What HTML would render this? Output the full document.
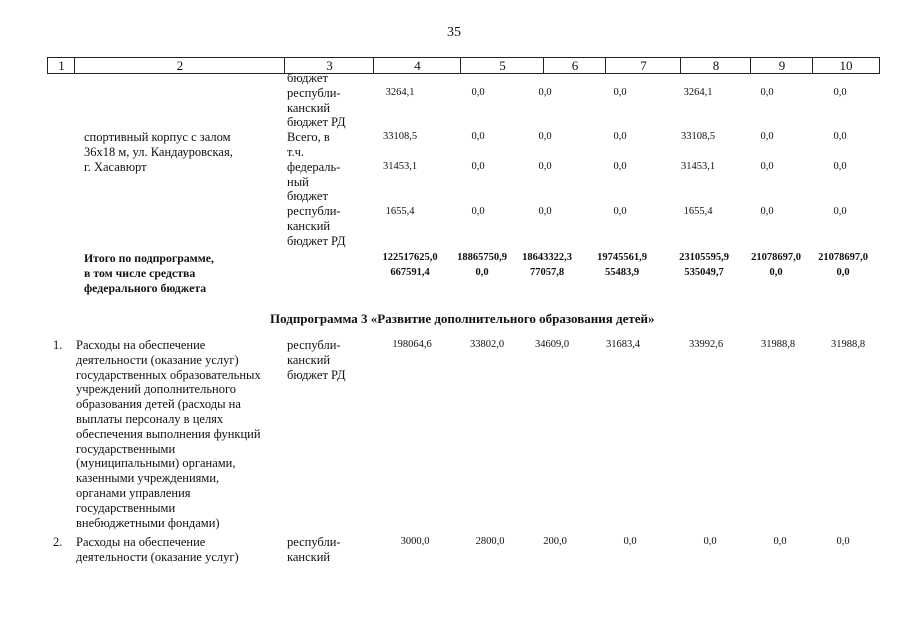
<!DOCTYPE html>
<html><head><meta charset="utf-8"><style>
html,body{margin:0;padding:0;background:#fff}
body{width:905px;height:640px;position:relative;overflow:hidden;font-family:"Liberation Serif",serif;color:#111}
.t{position:absolute;font-size:12.5px;line-height:14.8px;white-space:nowrap}
.n{position:absolute;font-size:10.5px;line-height:14.8px;white-space:nowrap;text-align:center;width:80px}
.b{font-weight:bold}
.hdr{position:absolute;top:57px;height:15px;border:1px solid #222;border-right:none;font-size:13px;line-height:15px;text-align:center}
</style></head><body>
<div class="t" style="left:447px;top:26px;font-size:14px">35</div>

<div class="hdr" style="left:47px;width:27px">1</div>
<div class="hdr" style="left:74px;width:210px">2</div>
<div class="hdr" style="left:284px;width:89px">3</div>
<div class="hdr" style="left:373px;width:87px">4</div>
<div class="hdr" style="left:460px;width:83px">5</div>
<div class="hdr" style="left:543px;width:62px">6</div>
<div class="hdr" style="left:605px;width:75px">7</div>
<div class="hdr" style="left:680px;width:70px">8</div>
<div class="hdr" style="left:750px;width:62px">9</div>
<div class="hdr" style="left:812px;width:66px;border-right:1px solid #222">10</div>

<div class="t" style="left:287px;top:71px">бюджет<br>республи-<br>канский<br>бюджет РД<br>Всего, в<br>т.ч.<br>федераль-<br>ный<br>бюджет<br>республи-<br>канский<br>бюджет РД</div>
<div class="t" style="left:84px;top:130px">спортивный корпус с залом<br>36х18 м, ул. Кандауровская,<br>г. Хасавюрт</div>

<div class="n" style="left:360px;top:86px">3264,1</div>
<div class="n" style="left:438px;top:86px">0,0</div>
<div class="n" style="left:505px;top:86px">0,0</div>
<div class="n" style="left:580px;top:86px">0,0</div>
<div class="n" style="left:658px;top:86px">3264,1</div>
<div class="n" style="left:727px;top:86px">0,0</div>
<div class="n" style="left:800px;top:86px">0,0</div>

<div class="n" style="left:360px;top:130px">33108,5</div>
<div class="n" style="left:438px;top:130px">0,0</div>
<div class="n" style="left:505px;top:130px">0,0</div>
<div class="n" style="left:580px;top:130px">0,0</div>
<div class="n" style="left:658px;top:130px">33108,5</div>
<div class="n" style="left:727px;top:130px">0,0</div>
<div class="n" style="left:800px;top:130px">0,0</div>

<div class="n" style="left:360px;top:160px">31453,1</div>
<div class="n" style="left:438px;top:160px">0,0</div>
<div class="n" style="left:505px;top:160px">0,0</div>
<div class="n" style="left:580px;top:160px">0,0</div>
<div class="n" style="left:658px;top:160px">31453,1</div>
<div class="n" style="left:727px;top:160px">0,0</div>
<div class="n" style="left:800px;top:160px">0,0</div>

<div class="n" style="left:360px;top:205px">1655,4</div>
<div class="n" style="left:438px;top:205px">0,0</div>
<div class="n" style="left:505px;top:205px">0,0</div>
<div class="n" style="left:580px;top:205px">0,0</div>
<div class="n" style="left:658px;top:205px">1655,4</div>
<div class="n" style="left:727px;top:205px">0,0</div>
<div class="n" style="left:800px;top:205px">0,0</div>

<div class="t b" style="left:84px;top:251px;font-size:11.8px">Итого по подпрограмме,<br>в том числе средства<br>федерального бюджета</div>
<div class="n b" style="left:370px;top:251px">122517625,0<br>667591,4</div>
<div class="n b" style="left:442px;top:251px">18865750,9<br>0,0</div>
<div class="n b" style="left:507px;top:251px">18643322,3<br>77057,8</div>
<div class="n b" style="left:582px;top:251px">19745561,9<br>55483,9</div>
<div class="n b" style="left:664px;top:251px">23105595,9<br>535049,7</div>
<div class="n b" style="left:736px;top:251px">21078697,0<br>0,0</div>
<div class="n b" style="left:803px;top:251px">21078697,0<br>0,0</div>

<div class="t b" style="left:270px;top:312px;font-size:13px">Подпрограмма 3 «Развитие дополнительного образования детей»</div>

<div class="t" style="left:53px;top:338px">1.</div>
<div class="t" style="left:76px;top:338px">Расходы на обеспечение<br>деятельности (оказание услуг)<br>государственных образовательных<br>учреждений дополнительного<br>образования детей (расходы на<br>выплаты персоналу в целях<br>обеспечения выполнения функций<br>государственными<br>(муниципальными) органами,<br>казенными учреждениями,<br>органами управления<br>государственными<br>внебюджетными фондами)</div>
<div class="t" style="left:287px;top:338px">республи-<br>канский<br>бюджет РД</div>
<div class="n" style="left:372px;top:338px">198064,6</div>
<div class="n" style="left:447px;top:338px">33802,0</div>
<div class="n" style="left:512px;top:338px">34609,0</div>
<div class="n" style="left:583px;top:338px">31683,4</div>
<div class="n" style="left:666px;top:338px">33992,6</div>
<div class="n" style="left:738px;top:338px">31988,8</div>
<div class="n" style="left:808px;top:338px">31988,8</div>

<div class="t" style="left:53px;top:535px">2.</div>
<div class="t" style="left:76px;top:535px">Расходы на обеспечение<br>деятельности (оказание услуг)</div>
<div class="t" style="left:287px;top:535px">республи-<br>канский</div>
<div class="n" style="left:375px;top:535px">3000,0</div>
<div class="n" style="left:450px;top:535px">2800,0</div>
<div class="n" style="left:515px;top:535px">200,0</div>
<div class="n" style="left:590px;top:535px">0,0</div>
<div class="n" style="left:670px;top:535px">0,0</div>
<div class="n" style="left:740px;top:535px">0,0</div>
<div class="n" style="left:803px;top:535px">0,0</div>
</body></html>
